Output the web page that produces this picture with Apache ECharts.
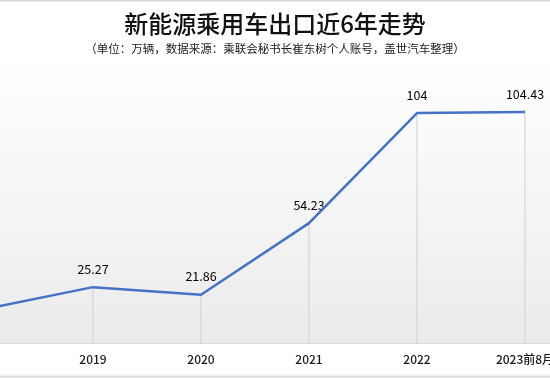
<!DOCTYPE html>
<html><head><meta charset="utf-8">
<script src="https://cdn.jsdelivr.net/npm/echarts@6/dist/echarts.min.js"></script>
<style>html,body{margin:0;padding:0;background:#fff;}#c{width:550px;height:378px;}</style>
</head><body><div id="c"></div>
<script>
const categories = ['2018', '2019', '2020', '2021', '2022', '2023前8月'];
const exportValues = [15.4, 25.27, 21.86, 54.23, 104, 104.43];
const valueLabels = ['', '25.27', '21.86', '54.23', '104', '104.43'];
const titleText = '新能源乘用车出口近6年走势';
const subtitleText = '（单位：万辆，数据来源：乘联会秘书长崔东树个人账号，盖世汽车整理）';

const chart = echarts.init(document.getElementById('c'), null, {renderer: 'canvas'});
const FONT = '"Noto Sans CJK SC", "Noto Sans", sans-serif';
chart.setOption({
  backgroundColor: '#fff',
  animation: false,
  title: [
    {text: titleText, left: 'center', top: 7, textStyle: {fontFamily: FONT, fontSize: 24, fontWeight: 500, color: '#111'}},
    {text: subtitleText, left: 'center', top: 38, textStyle: {fontFamily: FONT, fontSize: 11.5, fontWeight: 'normal', color: '#222'}}
  ],
  graphic: [
    {type: 'line', shape: {x1: 0, y1: 0.5, x2: 550, y2: 0.5}, style: {stroke: '#d9d9d9', lineWidth: 2}},
    {type: 'line', shape: {x1: 0, y1: 376.5, x2: 550, y2: 376.5}, style: {stroke: '#d9d9d9', lineWidth: 2}}
  ],
  grid: {
    left: -69, right: -29, top: 60, bottom: 35,
    outerBoundsMode: 'none', containLabel: false,
    show: true, borderWidth: 0,
    backgroundColor: new echarts.graphic.LinearGradient(0, 0, 0, 1, [
      {offset: 0, color: '#ffffff'}, {offset: 1, color: '#ebebeb'}
    ])
  },
  xAxis: {
    type: 'category', data: categories, boundaryGap: true,
    axisLine: {show: true, lineStyle: {color: '#d8d8d8'}},
    axisTick: {show: false},
    axisLabel: {fontFamily: FONT, fontSize: 12, color: '#1a1a1a', margin: 10, fontWeight: 500, interval: 0}
  },
  yAxis: {type: 'value', min: 0, max: 128, show: false, splitLine: {show: false}},
  series: [
    {
      type: 'bar', data: exportValues, barWidth: 1, barGap: '-100%', silent: true,
      itemStyle: {color: '#cfcfcf'}, z: 1,
      label: {
        show: true, position: 'top', distance: 12,
        fontFamily: FONT, fontSize: 12.5, color: '#000',
        formatter: p => valueLabels[p.dataIndex]
      }
    },
    {
      type: 'line', data: exportValues, symbol: 'none', z: 3,
      lineStyle: {color: '#4472c4', width: 2.5}
    }
  ]
});
</script></body></html>
